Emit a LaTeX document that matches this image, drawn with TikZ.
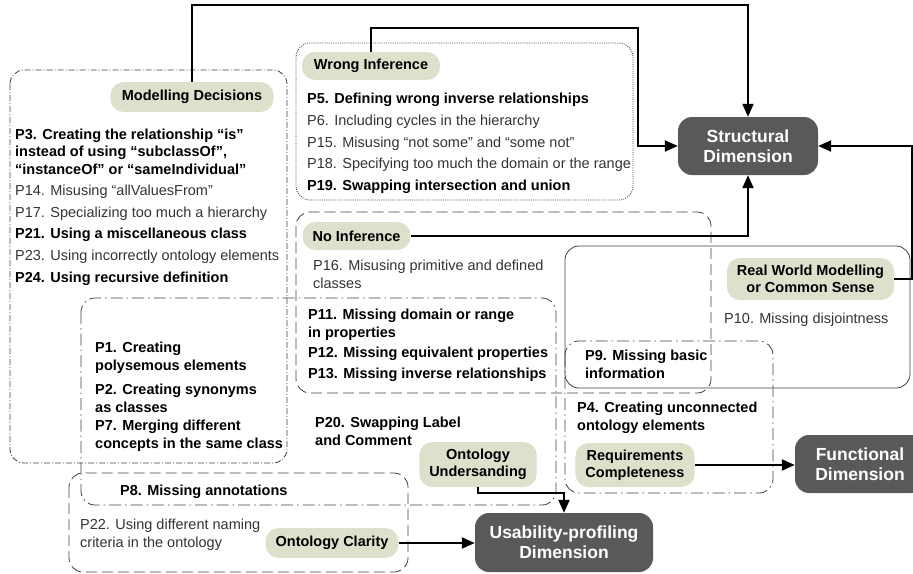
\documentclass[tikz,border=0pt]{standalone}
\usepackage{fontspec}
\setmainfont{Liberation Sans}
\usetikzlibrary{arrows.meta}

\definecolor{catfill}{HTML}{DDE0CB}
\definecolor{dimfill}{HTML}{595959}
\definecolor{zonegray}{HTML}{404040}
\definecolor{txtgray}{HTML}{333333}

\tikzset{
  zone/.style={draw=zonegray, line width=0.8pt, rounded corners=14pt},
  finedashdot/.style={dash pattern=on 6pt off 2pt on 1pt off 2pt},
  finedots/.style={dash pattern=on 1pt off 1.2pt},
  longdash/.style={dash pattern=on 11pt off 5pt},
  longdashdot/.style={dash pattern=on 12pt off 4pt on 1.5pt off 4pt},
  catnode/.style={fill=catfill, rounded corners=13pt, inner xsep=10pt, inner ysep=0pt,
    align=center, font=\fontsize{14.5}{17}\selectfont\bfseries},
  dimnode/.style={fill=dimfill, rounded corners=14pt, inner sep=0pt, text=white,
    align=center, font=\fontsize{17.5}{20}\selectfont\bfseries},
  % multi-line items: the base is the last line
  prob/.style={anchor=base west, inner sep=0pt, align=left,
    font=\fontsize{14.5}{17.5}\selectfont\bfseries},
  probn/.style={prob, text=txtgray, font=\fontsize{14.5}{17.5}\selectfont},
  conn/.style={-{Triangle[length=13pt,width=11pt]}, line width=2.2pt}
}

\begin{document}
\begin{tikzpicture}[x=1pt, y=-1pt]
    \useasboundingbox (0,0) rectangle (913,573);

    % zones
    \draw[zone, finedashdot] (10,70) rectangle (287,463);
    \draw[zone, finedots] (296,43) rectangle (633,200);
    \draw[zone, longdash] (296,212) rectangle (711,393);
    \draw[zone, longdashdot] (81,298) rectangle (556,505);
    \draw[zone, longdash] (69,473) rectangle (408,572);
    \draw[zone] (565,246) rectangle (910,388);
    \draw[zone, longdashdot] (565,341) rectangle (773,493);

    % categories
    \node[catnode, minimum width=163pt, minimum height=30pt] (md) at (192,97) {Modelling Decisions};
    \node[catnode, minimum width=138pt, minimum height=28pt] (wi) at (371,66) {Wrong Inference};
    \node[catnode, minimum width=103pt, minimum height=28pt] (ni) at (356.5,236) {No Inference};
    \node[catnode, minimum width=165pt, minimum height=42pt] (rw) at (810.5,279) {Real World Modelling\\or Common Sense};
    \node[catnode, minimum width=116pt, minimum height=44pt] (rc) at (635,465) {Requirements\\Completeness};
    \node[catnode, minimum width=110pt, minimum height=45pt] (ou) at (478,464.5) {Ontology\\Undersanding};
    \node[catnode, minimum width=130pt, minimum height=30pt] (oc) at (332,543) {Ontology Clarity};

    % dimensions
    \node[dimnode, minimum width=140pt, minimum height=58pt] (sd) at (748,146) {Structural\\Dimension};
    \node[dimnode, minimum width=130pt, minimum height=58pt] (fd) at (860,464) {Functional\\Dimension};
    \node[dimnode, minimum width=178pt, minimum height=59pt] (ud) at (564,542.5) {Usability-profiling\\Dimension};

    % pitfalls
    \node[prob] (p3) at (15,174) {P3. Creating the relationship “is”\\instead of using “subclassOf",\\“instanceOf" or “sameIndividual”};
    \node[probn] (p14) at (15,195) {P14. Misusing “allValuesFrom"};
    \node[probn] (p17) at (15,217) {P17. Specializing too much a hierarchy};
    \node[prob] (p21) at (15,238) {P21. Using a miscellaneous class};
    \node[probn] (p23) at (15,260) {P23. Using incorrectly ontology elements};
    \node[prob] (p24) at (15,282) {P24. Using recursive definition};

    \node[prob] (p5) at (307,103) {P5. Defining wrong inverse relationships};
    \node[probn] (p6) at (307,125) {P6. Including cycles in the hierarchy};
    \node[probn] (p15) at (307,147) {P15. Misusing “not some" and “some not"};
    \node[probn] (p18) at (307,168) {P18. Specifying too much the domain or the range};
    \node[prob] (p19) at (307,190) {P19. Swapping intersection and union};

    \node[probn] (p16) at (313,288) {P16. Misusing primitive and defined\\classes};
    \node[prob] (p11) at (308,337) {P11. Missing domain or range\\in properties};
    \node[prob] (p12) at (308,357) {P12. Missing equivalent properties};
    \node[prob] (p13) at (308,378) {P13. Missing inverse relationships};
    \node[prob] (p20) at (315,445) {P20. Swapping Label\\and Comment};

    \node[prob] (p1) at (95,370) {P1. Creating\\polysemous elements};
    \node[prob] (p2) at (95,412) {P2. Creating synonyms\\as classes};
    \node[prob] (p7) at (95,448) {P7. Merging different\\concepts in the same class};
    \node[prob] (p8) at (120,495) {P8. Missing annotations};
    \node[probn] (p22) at (80,547) {P22. Using different naming\\criteria in the ontology};

    \node[probn] (p10) at (724,323) {P10. Missing disjointness};
    \node[prob] (p9) at (585,378) {P9. Missing basic\\information};
    \node[prob] (p4) at (577,430) {P4. Creating unconnected\\ontology elements};

    % connectors
    \draw[conn] (md.north) -- (md.north |- 0,5) -- (sd.north |- 0,5) -- (sd.north);
    \draw[conn] (wi.north) -- (wi.north |- 0,28) -- (638,28) -- (638,0 |- sd.west) -- (sd.west);
    \draw[conn] (ni.east) -| (sd.south);
    \draw[conn] (rw.east) -- (rw.east -| 912,0) -- (912,0 |- sd.east) -- (sd.east);
    \draw[conn] (rc.east) -- (rc.east -| fd.west);
    \draw[conn] (ou.south) -- ++(0,6) -| (ud.north);
    \draw[conn] (oc.east) -- (oc.east -| ud.west);
\end{tikzpicture}
\end{document}
